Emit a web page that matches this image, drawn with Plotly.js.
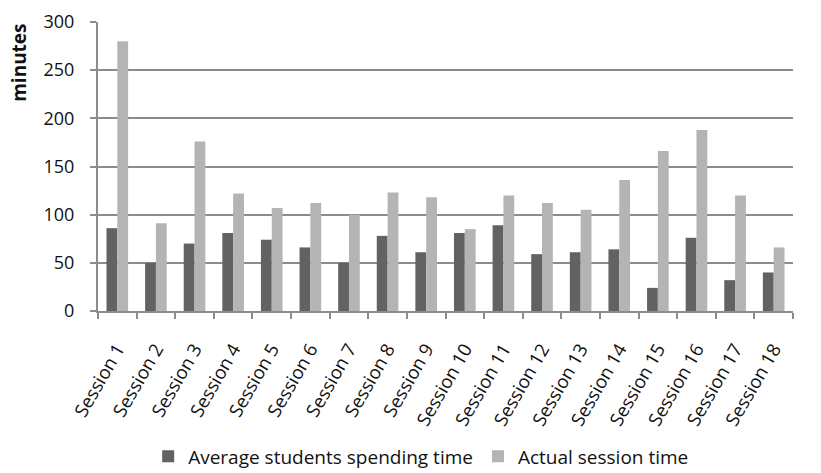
<!DOCTYPE html>
<html>
<head>
<meta charset="utf-8">
<script src="https://cdn.plot.ly/plotly-3.0.1.min.js"></script>
<style>html,body{margin:0;padding:0;background:#fff;}#chart{width:821px;height:473px;}</style>
</head>
<body>
<div id="chart"></div>
<script>
const categories = ["Session 1","Session 2","Session 3","Session 4","Session 5","Session 6","Session 7","Session 8","Session 9","Session 10","Session 11","Session 12","Session 13","Session 14","Session 15","Session 16","Session 17","Session 18"];
const avgStudentTime = [86,50,70,81,74,66,50,78,61,81,89,59,61,64,24,76,32,40];
const actualSessionTime = [280,91,176,122,107,112,100,123,118,85,120,112,105,136,166,188,120,66];
const yTicks = [0,50,100,150,200,250,300];

const font = "Open Sans, Liberation Sans, sans-serif";
const traces = [
  {type:"bar", name:"Average students spending time", x:categories, y:avgStudentTime, marker:{color:"#626262"}},
  {type:"bar", name:"Actual session time", x:categories, y:actualSessionTime, marker:{color:"#b4b4b4"}}
];
const layout = {
  width:821, height:473,
  margin:{l:98, r:28, t:22, b:162, autoexpand:false},
  paper_bgcolor:"#fff", plot_bgcolor:"#fff",
  barmode:"group", bargap:0.44, bargroupgap:0,
  font:{family:font, color:"#111", size:16},
  showlegend:true,
  legend:{orientation:"h", x:0.465, xanchor:"center", y:-0.503, yanchor:"middle", font:{size:19, family:font}, traceorder:"normal", itemwidth:30},
  xaxis:{type:"category", automargin:false, showgrid:false, showline:true, linecolor:"#8c8c8c", linewidth:2,
    ticks:"outside", ticklen:6, tickcolor:"#8c8c8c", tickwidth:2, tickson:"boundaries",
    tickangle:-60, ticklabelstandoff:18, tickfont:{size:18.5, family:font, color:"#111"}},
  yaxis:{range:[0,300], automargin:false, tickvals:yTicks, showgrid:true, gridcolor:"#8c8c8c", gridwidth:2,
    showline:true, linecolor:"#8c8c8c", linewidth:2, ticks:"outside", ticklen:6, tickcolor:"#8c8c8c", tickwidth:2,
    ticklabelstandoff:12, zeroline:false, tickfont:{size:18, family:font, color:"#111"}},
  annotations:[{text:"<b>minutes</b>", xref:"paper", yref:"paper", x:-0.114, y:0.858, xanchor:"center", yanchor:"middle",
    textangle:-90, showarrow:false, font:{size:19, family:font, color:"#111"}}]
};
Plotly.newPlot("chart", traces, layout, {displayModeBar:false, staticPlot:true});
</script>
</body>
</html>
